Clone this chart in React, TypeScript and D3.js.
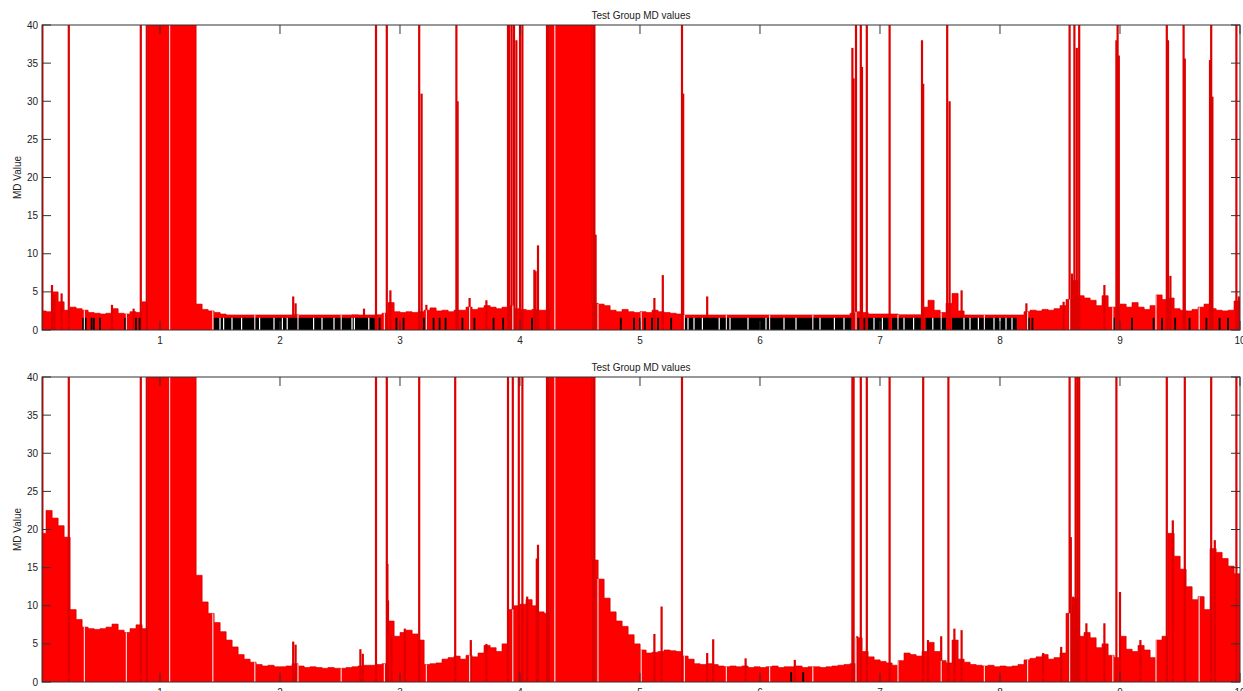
import React from 'react';
import * as d3 from 'd3';

const TITLE = 'Test Group MD values';
const Y_LABEL = 'MD Value';
const X_MIN = 0.0167;
const X_MAX = 10;
const BIN = 0.05;
const xTicks = [1, 2, 3, 4, 5, 6, 7, 8, 9, 10];
const yTicks = [0, 5, 10, 15, 20, 25, 30, 35, 40];

// segment boundaries (thin pale gaps in the bars)
const gapX = [0.37, 0.72, 1.08, 1.44, 1.79, 2.15, 2.51, 2.87, 3.22, 3.58, 3.94, 4.29, 4.65, 5.01, 5.37, 5.72, 6.08, 6.44, 6.80, 7.15, 7.51, 7.87, 8.23, 8.58, 8.94, 9.30, 9.66];

// ---------- top panel ----------
const topBase = [
  2.5, 2.4, 5.0, 3.7, 2.6, 3.0, 2.8, 2.6, 2.3, 2.2,
  2.1, 2.2, 2.8, 2.2, 2.1, 2.4, 2.3, 3.7, 40, 40,
  40, 40, 40, 40, 40, 40, 3.4, 2.7, 2.5, 2.3,
  2.1, 1.97, 1.97, 1.97, 1.97, 1.97, 1.97, 1.97, 1.97, 1.97,
  1.97, 1.97, 2.0, 1.97, 1.97, 1.97, 1.97, 1.97, 1.97, 1.97,
  1.97, 1.97, 2.0, 1.97, 1.97, 1.97, 2.0, 2.2, 3.6, 2.4,
  2.3, 2.4, 2.3, 2.4, 2.6, 2.9, 2.5, 2.6, 2.4, 2.6,
  2.6, 3.0, 2.7, 2.9, 3.2, 3.0, 2.8, 3.0, 3.2, 2.8,
  2.7, 2.6, 2.7, 2.6, 2.6, 40, 40, 40, 40, 40,
  40, 40, 3.5, 3.4, 3.2, 2.6, 2.4, 2.7, 2.4, 2.3,
  2.4, 2.3, 2.6, 2.4, 2.3, 2.2, 2.1, 1.97, 1.97, 1.97,
  1.97, 1.97, 1.97, 1.97, 1.97, 1.97, 1.97, 1.97, 1.97, 1.97,
  1.97, 1.97, 1.97, 1.97, 1.97, 1.97, 1.97, 1.97, 1.97, 1.97,
  1.97, 1.97, 1.97, 1.97, 1.97, 2.2, 2.4, 2.3, 2.1, 2.1,
  2.1, 2.1, 2.1, 2.0, 2.0, 2.0, 2.0, 3.0, 3.9, 2.6,
  2.3, 3.5, 4.8, 2.5, 1.97, 1.97, 1.97, 1.97, 1.97, 1.97,
  1.97, 1.97, 1.97, 1.97, 2.4, 2.6, 2.5, 2.7, 2.6, 2.8,
  3.2, 4.0, 6.5, 4.5, 4.2, 3.9, 3.2, 4.5, 3.0, 3.0,
  3.4, 3.0, 3.6, 3.0, 2.7, 3.2, 4.6, 4.0, 4.2, 2.8,
  2.6, 2.5, 2.7, 3.0, 3.4, 2.8, 2.6, 2.5, 2.6, 3.8,
];

const topSpikes: [number, number][] = [
  [0.02, 40], [0.1, 5.9], [0.12, 4.6], [0.18, 4.8], [0.24, 40], [0.6, 3.3], [0.78, 2.8], [0.84, 40], [0.89, 40],
  [2.11, 4.4], [2.13, 3.5], [2.7, 2.8], [2.8, 40], [2.89, 40], [2.92, 5.2], [3.16, 40], [3.18, 31], [3.22, 3.3],
  [3.47, 40], [3.48, 30], [3.58, 4.2], [3.72, 3.9], [3.9, 40], [3.91, 40], [3.93, 40], [3.95, 40], [3.97, 38],
  [4.0, 40], [4.02, 40], [4.12, 7.9], [4.13, 7.7], [4.15, 11.1], [4.225, 40], [4.24, 40], [4.61, 40], [4.62, 40],
  [4.63, 12.5], [5.12, 4.2], [5.19, 7.2], [5.35, 40], [5.36, 31], [5.56, 4.4], [6.77, 37], [6.78, 33], [6.8, 40],
  [6.84, 40], [6.85, 34.5], [6.89, 40], [7.08, 40], [7.35, 38], [7.36, 32.3], [7.56, 40], [7.58, 30], [7.68, 5.2],
  [8.22, 3.5], [8.53, 3.7], [8.58, 40], [8.6, 7.4], [8.62, 40], [8.64, 37], [8.66, 40], [8.87, 5.9], [8.97, 38],
  [8.98, 40], [8.99, 36], [9.39, 40], [9.4, 38], [9.42, 7.1], [9.53, 40], [9.54, 35.6], [9.75, 35.4], [9.76, 40],
  [9.77, 30.6], [9.97, 40], [9.99, 4.4],
];

const topBlackRanges: [number, number][] = [
  [1.45, 2.79], [5.37, 6.76], [6.9, 7.07], [7.1, 7.34], [7.38, 7.55], [7.6, 8.14],
];
const topBlackLines = [
  0.36, 0.38, 0.43, 0.45, 0.5, 0.71, 0.8, 0.83, 2.83, 2.97, 3.03, 3.2, 3.28, 3.33, 3.38, 3.52, 3.62, 3.78, 3.86,
  4.1, 4.84, 4.95, 5.0, 5.04, 5.1, 5.15, 5.26, 6.82, 6.87, 8.24, 8.27, 8.95, 9.1, 9.28, 9.35, 9.46, 9.58, 9.72, 9.83, 9.9,
];
// white slivers inside the dense black stretches
const topBlackGaps = [
  1.5, 1.53, 1.6, 1.68, 1.83, 1.95, 2.02, 2.06, 2.28, 2.35, 2.45, 2.6, 2.62, 2.74,
  5.4, 5.45, 5.52, 5.66, 5.75, 5.9, 6.05, 6.2, 6.3, 6.5, 6.62, 6.7,
  6.95, 7.02, 7.2, 7.28, 7.44, 7.7, 7.75, 7.82, 7.95, 8.0, 8.05, 8.1,
];
const topBlackHeight = 1.6;

// ---------- bottom panel ----------
const bottomBase = [
  19.5, 22.5, 21.5, 20.5, 19.0, 9.5, 8.2, 7.2, 7.0, 6.9,
  7.0, 7.2, 7.6, 6.8, 6.5, 7.0, 7.5, 7.0, 40, 40,
  40, 40, 40, 40, 40, 40, 14.0, 10.5, 9.0, 7.8,
  6.6, 5.5, 4.6, 3.6, 3.0, 2.6, 2.3, 2.1, 2.2, 2.0,
  2.0, 2.1, 2.4, 2.1, 1.9, 2.0, 1.9, 1.8, 1.9, 1.8,
  1.8, 1.9, 2.0, 2.1, 2.2, 2.2, 2.3, 2.4, 8.0, 6.0,
  6.5, 6.8, 6.3, 5.5, 2.3, 2.4, 2.5, 3.0, 3.2, 3.4,
  3.0, 3.5, 3.3, 3.8, 4.8, 4.5, 4.0, 5.0, 9.5, 10.0,
  10.2, 10.8, 10.0, 9.2, 9.0, 40, 40, 40, 40, 40,
  40, 40, 16.0, 13.5, 11.0, 9.2, 8.0, 7.3, 6.2, 5.0,
  4.2, 3.8, 3.9, 4.0, 4.2, 4.1, 4.0, 3.4, 3.0, 2.4,
  2.3, 2.4, 2.3, 2.1, 2.0, 2.1, 2.0, 2.1, 1.9, 2.0,
  1.9, 2.0, 2.1, 1.9, 2.0, 2.0, 2.1, 1.9, 2.0, 2.0,
  1.9, 2.0, 2.1, 2.2, 2.3, 2.4, 5.8, 4.0, 3.3, 2.9,
  2.7, 2.5, 2.2, 2.8, 3.8, 3.6, 3.4, 4.0, 5.2, 4.0,
  2.8, 2.5, 5.5, 3.0, 2.6, 2.3, 2.2, 2.1, 2.2, 2.0,
  2.1, 2.0, 2.1, 2.3, 2.9, 3.1, 3.3, 3.6, 3.0, 3.2,
  3.8, 9.0, 11.0, 6.0, 6.5, 5.8, 4.5, 5.0, 3.5, 3.2,
  6.0, 4.3, 4.0, 4.8, 4.2, 3.2, 5.5, 6.0, 19.5, 16.5,
  14.8, 12.5, 10.8, 11.2, 9.5, 17.5, 17.0, 16.2, 15.2, 14.2,
];

const bottomSpikes: [number, number][] = [
  [0.02, 40], [0.24, 40], [0.84, 40], [0.89, 40], [2.11, 5.3], [2.13, 4.9], [2.67, 4.3], [2.69, 3.7], [2.8, 40],
  [2.89, 40], [2.895, 15.5], [2.9, 10.7], [2.93, 6.0], [3.04, 7.0], [3.16, 40], [3.46, 40], [3.59, 5.5], [3.72, 5.0],
  [3.9, 40], [3.94, 40], [3.99, 40], [4.02, 40], [4.06, 11.2], [4.14, 16.2], [4.15, 18.0], [4.225, 40], [4.24, 40],
  [4.61, 40], [4.62, 40], [5.12, 6.3], [5.18, 9.9], [5.35, 40], [5.56, 3.8], [5.61, 5.6], [5.88, 3.1], [6.29, 2.9],
  [6.77, 40], [6.78, 40], [6.81, 6.0], [6.84, 40], [6.89, 40], [7.08, 40], [7.36, 40], [7.4, 5.5], [7.51, 6.0],
  [7.57, 40], [7.62, 7.0], [7.68, 6.8], [8.36, 3.8], [8.51, 4.6], [8.58, 40], [8.59, 19.0], [8.61, 11.2], [8.63, 40],
  [8.645, 40], [8.66, 40], [8.72, 7.7], [8.87, 7.7], [8.97, 40], [9.0, 11.8], [9.17, 5.5], [9.39, 40], [9.44, 21.2],
  [9.54, 40], [9.76, 40], [9.79, 18.6], [9.97, 40],
];

const bottomBlackRanges: [number, number][] = [];
const bottomBlackLines = [6.26, 6.36];
const bottomBlackGaps: number[] = [];
const bottomBlackHeight = 1.3;

const PLOT_LEFT = 42;
const PLOT_RIGHT = 1240;
const PLOT_H = 305;
const FONT = '"Liberation Sans", Arial, Helvetica, sans-serif';

type PanelProps = {
  id: string;
  top: number;
  base: number[];
  spikes: [number, number][];
  blackRanges: [number, number][];
  blackLines: number[];
  blackGaps: number[];
  blackHeight: number;
};

function Panel({ id, top, base, spikes, blackRanges, blackLines, blackGaps, blackHeight }: PanelProps) {
  const x = d3.scaleLinear().domain([X_MIN, X_MAX]).range([PLOT_LEFT, PLOT_RIGHT]);
  const y = d3.scaleLinear().domain([0, 40]).range([top + PLOT_H, top]);
  const y0 = y(0);

  const outline = d3
    .line<[number, number]>()
    .x((d) => x(d[0]))
    .y((d) => y(d[1]))
    .curve(d3.curveStepAfter)(
      [...base.map((v, i) => [i * BIN, v] as [number, number]), [base.length * BIN, base[base.length - 1]]]
    );

  const valueAt = (v: number) => {
    const i = Math.min(base.length - 1, Math.max(0, Math.floor(v / BIN)));
    return base[i];
  };

  const clipId = `clip-${id}`;
  return (
    <g>
      <defs>
        <clipPath id={clipId}>
          <rect x={PLOT_LEFT} y={top} width={PLOT_RIGHT - PLOT_LEFT} height={PLOT_H} />
        </clipPath>
      </defs>
      <g clipPath={`url(#${clipId})`}>
        {base.map((v, i) => (
          <rect
            key={`b${i}`}
            x={x(i * BIN)}
            y={y(v)}
            width={x((i + 1) * BIN) - x(i * BIN) + 0.3}
            height={y0 - y(v)}
            fill="#ff0000"
          />
        ))}
        <path d={outline || ''} fill="none" stroke="#c80000" strokeWidth={0.6} />
        {spikes.map(([sx, h], i) => (
          <rect key={`s${i}`} x={x(sx) - 1.1} y={y(h)} width={2.2} height={y0 - y(h)} fill="#dc0000" />
        ))}
        {blackRanges.map(([a, b], i) => (
          <rect key={`br${i}`} x={x(a)} y={y(blackHeight)} width={x(b) - x(a)} height={y0 - y(blackHeight)} fill="#000" />
        ))}
        {blackLines.map((bx, i) => (
          <rect key={`bl${i}`} x={x(bx) - 0.9} y={y(blackHeight)} width={1.8} height={y0 - y(blackHeight)} fill="#000" />
        ))}
        {blackGaps.map((bx, i) => (
          <rect key={`bg${i}`} x={x(bx) - 0.6} y={y(blackHeight)} width={1.2} height={y0 - y(blackHeight)} fill="#fff" />
        ))}
        {gapX.map((g, i) => {
          const h = valueAt(g);
          return (
            <line key={`g${i}`} x1={x(g)} x2={x(g)} y1={y0} y2={y(h)} stroke="#f2d4d4" strokeWidth={1.2} />
          );
        })}
      </g>
      {/* frame */}
      <rect x={PLOT_LEFT} y={top} width={PLOT_RIGHT - PLOT_LEFT} height={PLOT_H} fill="none" stroke="#333" strokeWidth={1} />
      {/* y ticks */}
      {yTicks.map((t) => (
        <g key={`yt${t}`}>
          <line x1={PLOT_LEFT} x2={PLOT_LEFT + 9} y1={y(t)} y2={y(t)} stroke="#333" strokeWidth={1} />
          <line x1={PLOT_RIGHT} x2={PLOT_RIGHT - 9} y1={y(t)} y2={y(t)} stroke="#333" strokeWidth={1} />
          <text x={PLOT_LEFT - 4} y={y(t) + 3.5} textAnchor="end" fontSize={10} fontFamily={FONT} fill="#222">
            {t}
          </text>
        </g>
      ))}
      {/* x ticks */}
      {xTicks.map((t) => (
        <g key={`xt${t}`}>
          <line x1={x(t)} x2={x(t)} y1={y0} y2={y0 - 9} stroke="#333" strokeWidth={1} />
          <line x1={x(t)} x2={x(t)} y1={top} y2={top + 9} stroke="#333" strokeWidth={1} />
          <text x={x(t)} y={y0 + 14} textAnchor="middle" fontSize={10} fontFamily={FONT} fill="#222">
            {t}
          </text>
        </g>
      ))}
      <text x={(PLOT_LEFT + PLOT_RIGHT) / 2} y={top - 6} textAnchor="middle" fontSize={10} fontFamily={FONT} fill="#222">
        {TITLE}
      </text>
      <text
        transform={`translate(21, ${top + PLOT_H / 2}) rotate(-90)`}
        textAnchor="middle"
        fontSize={10}
        fontFamily={FONT}
        fill="#222"
      >
        {Y_LABEL}
      </text>
    </g>
  );
}

export default function App() {
  return (
    <svg
      width={1243}
      height={691}
      viewBox="0 0 1243 691"
      style={{ position: 'absolute', left: 0, top: 0, background: '#fff' }}
    >
      <rect x={0} y={0} width={1243} height={691} fill="#fff" />
      <Panel
        id="top"
        top={25}
        base={topBase}
        spikes={topSpikes}
        blackRanges={topBlackRanges}
        blackLines={topBlackLines}
        blackGaps={topBlackGaps}
        blackHeight={topBlackHeight}
      />
      <Panel
        id="bottom"
        top={377}
        base={bottomBase}
        spikes={bottomSpikes}
        blackRanges={bottomBlackRanges}
        blackLines={bottomBlackLines}
        blackGaps={bottomBlackGaps}
        blackHeight={bottomBlackHeight}
      />
    </svg>
  );
}
